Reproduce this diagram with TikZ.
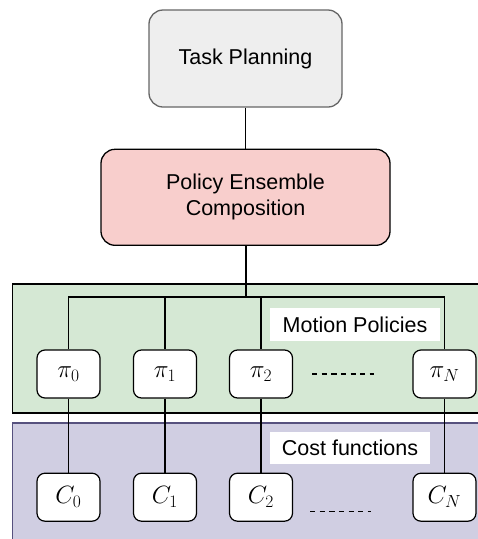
\documentclass[tikz,border=0pt]{standalone}
\usepackage{fix-cm}
\usepackage{fontspec}
\setmainfont{Liberation Sans}
\usepackage{xcolor}
\usetikzlibrary{positioning}

\definecolor{taskgray}{HTML}{EEEEEE}
\definecolor{taskedge}{HTML}{666666}
\definecolor{ensred}{HTML}{F8CECC}
\definecolor{motiongreen}{HTML}{D5E8D4}
\definecolor{costpurple}{HTML}{D0CEE2}
\definecolor{costedge}{HTML}{56517E}
\DeclareMathSizes{25}{25}{17.5}{12.5}

\begin{document}
\begin{tikzpicture}[
  x=1pt, y=-1pt,
  font=\fontsize{21.5}{26}\selectfont,
  box/.style={draw, line width=1.3pt, rounded corners=14pt, align=center},
  task/.style={box, draw=taskedge, fill=taskgray, minimum width=193pt,
    minimum height=97pt},
  ensemble/.style={box, fill=ensred, minimum width=289pt, minimum height=96pt},
  leaf/.style={draw, line width=1.2pt, rounded corners=8pt, fill=white,
    minimum width=63pt, minimum height=48pt, inner sep=0pt,
    font=\fontsize{25}{30}\selectfont},
  panel/.style={line width=1.3pt},
  tag/.style={fill=white, inner sep=0pt},
  wire/.style={line width=1.2pt},
  trunk/.style={line width=2pt},
  gap/.style={line width=1.2pt, dash pattern=on 5.3pt off 4.3pt}
]
\clip (0,0) rectangle (478,539);
% layers
\draw[panel, fill=motiongreen] (12.7,284) rectangle (490,413);
\draw[panel, draw=costedge, fill=costpurple] (12.7,423) rectangle (490,560);
\node[tag, minimum width=170pt, minimum height=33pt] (motion) at (355,324.5) {Motion Policies};
\node[tag, minimum width=160pt, minimum height=32pt] (cost) at (350,448) {Cost functions};

\node[task] (task) at (245.5,58.5) {Task Planning};
\node[ensemble, below=41pt of task] (ens) {Policy Ensemble\\Composition};
\coordinate (bus) at (245.5,297);
\draw[wire] (task) -- (ens);
\draw[trunk] (ens) -- (bus);

\foreach \i/\x in {0/68.5,1/165,2/261,N/444.5} {
  \node[leaf] (pi\i) at (\x,374) {$\pi_{\i}$};
  \node[leaf, below=74pt of pi\i] (c\i) {$C_{\i}$};
  \draw[wire] (bus) -| (pi\i);
  \draw[wire] (pi\i) -- (c\i);
}

\draw[gap] ([xshift=19pt]pi2.east) -- ([xshift=-38pt]piN.west);
\draw[gap] ([xshift=17pt,yshift=-14pt]c2.east) -- ([xshift=-41pt,yshift=-14pt]cN.west);
\end{tikzpicture}
\end{document}
